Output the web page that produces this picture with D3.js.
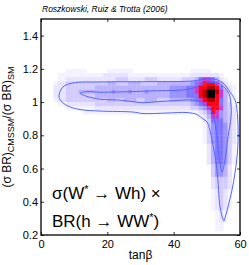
<!DOCTYPE html>
<html>
<head>
<meta charset="utf-8">
<script src="https://cdn.jsdelivr.net/npm/d3@7"></script>
<style>
  body { margin: 0; background: #fff; }
  svg { display: block; font-family: "Liberation Sans", Arial, sans-serif; }
</style>
</head>
<body>
<svg id="chart" width="249" height="265"></svg>
<script>
// 軸の値
var xTicks = [0, 20, 40, 60];
var yTicks = [0.2, 0.4, 0.6, 0.8, 1.0, 1.2, 1.4];

// ヒストグラムのビン (tanβ 1.25刻み, 比 0.025刻み, 上から行番号)
var tanbStep = 1.25;
var ratioStep = 0.025;
var ratioTop = 1.5;

// [行, 開始列, 強度文字列]  0-9, a = 最大
var heatRows = [
  [12, 6, "11111" + "00000" + "111111" + "00000000000000" + "11111"],
  [13, 4, "111111111" + "11" + "222222" + "111111111111111" + "2222222" + "1"],
  [14, 4, "112222222" + "222223332222333222222" + "333" + "46776421"],
  [15, 3, "1223333333" + "333443334443333444" + "44444" + "567" + "888" + "7421"],
  [16, 3, "2223333333" + "444444444444444444" + "5555" + "66" + "788998" + "6321"],
  [17, 3, "2223334444" + "444454445444544444" + "5555" + "66" + "789" + "aa" + "97421"],
  [18, 3, "2223333333" + "444444444444444444" + "5555" + "666" + "89aa8" + "7421"],
  [19, 3, "1223333333" + "333443344433444333" + "44444" + "5678" + "99" + "86421"],
  [20, 4, "112222222" + "333333333333333333" + "33333" + "4567" + "888" + "6431"],
  [21, 6, "1111111" + "222222222222222222" + "22222" + "33457" + "88" + "7432"],
  [22, 10, "1111111111" + "1111111111" + "11111111" + "235875432"],
  [23, 38, "1247754321"],
  [24, 39, "23666432"],
  [25, 39, "13566532"],
  [26, 39, "13566532"],
  [27, 39, "13566532"],
  [28, 39, "13566532"],
  [29, 39, "13566532"],
  [30, 40, "2466531"],
  [31, 40, "2466531"],
  [32, 40, "2466531"],
  [33, 40, "2466531"],
  [34, 40, "2466531"],
  [35, 41, "35542"],
  [36, 41, "35542"],
  [37, 41, "35542"],
  [38, 41, "23332"],
  [39, 41, "23332"],
  [40, 41, "23332"],
  [41, 41, "12321"],
  [42, 41, "12321"],
  [43, 41, "12321"],
  [44, 41, "12321"],
  [45, 41, "12321"],
  [46, 42, "121"],
  [47, 42, "121"],
  [48, 42, "121"],
  [49, 42, "11"],
  [50, 42, "11"]
];

// 等高線 (tanβ, 比)
var outerContour = [
  [5.43,1.037],[6.63,1.091],[9.65,1.115],[17.79,1.121],[32.86,1.123],[45.83,1.127],
  [50.05,1.139],[52.76,1.136],[55.18,1.109],[56.98,1.061],[58.49,1.013],[59.10,0.952],
  [59.40,0.862],[59.40,0.754],[59.10,0.669],[58.49,0.573],[57.59,0.471],[56.38,0.369],
  [55.48,0.302],[55.18,0.284],[54.87,0.296],[53.97,0.369],[53.07,0.591],[51.56,0.772],
  [50.05,0.880],[48.84,0.898],[47.03,0.925],[44.02,0.937],[37.99,0.934],[30.75,0.931],
  [27.74,0.940],[17.79,0.946],[11.76,0.955],[8.14,0.976],[6.03,1.007]
];
var innerContour = [
  [11.76,1.053],[13.87,1.063],[17.79,1.059],[22.91,1.061],[27.74,1.063],[32.86,1.067],
  [37.99,1.069],[42.81,1.073],[46.43,1.088],[48.84,1.109],[51.26,1.118],[53.67,1.112],
  [55.48,1.085],[56.68,1.049],[57.29,0.982],[57.29,0.910],[56.38,0.790],[55.48,0.651],
  [54.57,0.579],[53.67,0.682],[52.76,0.832],[51.86,0.928],[50.05,0.976],[47.94,1.002],
  [44.92,1.013],[39.80,1.008],[34.97,1.002],[30.75,0.996],[27.74,1.002],[22.91,1.013],
  [17.79,1.017],[14.77,1.029],[12.66,1.043]
];

var levelColors = {
  "1": "#f5f2ff", "2": "#e8e3ff", "3": "#d4ccff", "4": "#bab2ff", "5": "#9c94ff",
  "6": "#7e76ff", "7": "#c83ad8", "8": "#ff0014", "9": "#b00000", "a": "#000000"
};

var svg = d3.select("#chart");
var margin = {left: 41, right: 9, top: 19, bottom: 30};
var W = 249, H = 265;

var x = d3.scaleLinear().domain([0, 60]).range([margin.left, W - margin.right]);
var y = d3.scaleLinear().domain([0.2, 1.5]).range([H - margin.bottom, margin.top]);

svg.append("defs").append("clipPath").attr("id", "plotClip")
  .append("rect")
  .attr("x", x(0)).attr("y", y(1.5))
  .attr("width", x(60) - x(0)).attr("height", y(0.2) - y(1.5));

var plot = svg.append("g").attr("clip-path", "url(#plotClip)");

// ヒートマップ
var cells = [];
heatRows.forEach(function(r){
  for(var i=0; i<r[2].length; i++){
    var ch = r[2][i];
    if(ch === "0") continue;
    cells.push({col: r[1] + i, row: r[0], v: ch});
  }
});

plot.append("g").attr("class", "heat")
  .selectAll("rect")
  .data(cells)
  .enter()
  .append("rect")
  .attr("x", function(d){ return x(d.col * tanbStep); })
  .attr("y", function(d){ return y(ratioTop - d.row * ratioStep); })
  .attr("width", function(d){ return x((d.col + 1) * tanbStep) - x(d.col * tanbStep) + 0.3; })
  .attr("height", function(d){ return y(ratioTop - (d.row + 1) * ratioStep) - y(ratioTop - d.row * ratioStep) + 0.3; })
  .attr("fill", function(d){ return levelColors[d.v]; });

// 等高線
var line = d3.line()
  .x(function(d){ return x(d[0]); })
  .y(function(d){ return y(d[1]); })
  .curve(d3.curveCatmullRomClosed.alpha(0.5));

plot.selectAll("path.contour")
  .data([outerContour, innerContour])
  .enter()
  .append("path")
  .attr("class", "contour")
  .attr("d", line)
  .attr("fill", "none")
  .attr("stroke", "#5266ff")
  .attr("stroke-width", 1);

// 軸
var fmt = function(d){ return String(+d.toFixed(1)); };

var gx = svg.append("g")
  .attr("transform", "translate(0," + y(0.2) + ")")
  .call(d3.axisBottom(x).tickValues(xTicks).tickSize(-3).tickPadding(5).tickFormat(fmt));
var gxt = svg.append("g")
  .attr("transform", "translate(0," + y(1.5) + ")")
  .call(d3.axisTop(x).tickValues(xTicks).tickSize(-3).tickFormat(""));
var gy = svg.append("g")
  .attr("transform", "translate(" + x(0) + ",0)")
  .call(d3.axisLeft(y).tickValues(yTicks).tickSize(-3).tickPadding(3).tickFormat(fmt));
var gyr = svg.append("g")
  .attr("transform", "translate(" + x(60) + ",0)")
  .call(d3.axisRight(y).tickValues(yTicks).tickSize(-3).tickFormat(""));

[gx, gxt, gy, gyr].forEach(function(g){
  g.select(".domain").remove();
  g.selectAll(".tick line").attr("stroke", "#000").attr("stroke-width", 0.8);
  g.selectAll(".tick text").attr("fill", "#000").style("font-size", "11px")
    .style("font-family", "Liberation Sans, Arial, sans-serif");
});

svg.append("rect")
  .attr("x", x(0)).attr("y", y(1.5))
  .attr("width", x(60) - x(0)).attr("height", y(0.2) - y(1.5))
  .attr("fill", "none").attr("stroke", "#000").attr("stroke-width", 1.3);

// タイトル
svg.append("text")
  .attr("x", 42).attr("y", 12)
  .style("font-size", "8.5px").style("font-style", "italic")
  .text("Roszkowski, Ruiz & Trotta (2006)");

// x軸ラベル
svg.append("text")
  .attr("x", (x(0) + x(60)) / 2).attr("y", 259)
  .attr("text-anchor", "middle")
  .style("font-size", "12px")
  .text("tanβ");

// y軸ラベル
var yl = svg.append("text")
  .attr("transform", "translate(11," + ((y(0.2) + y(1.5)) / 2) + ") rotate(-90)")
  .attr("text-anchor", "middle")
  .style("font-size", "12px");
yl.append("tspan").text("(σ BR)");
yl.append("tspan").attr("dy", 3).style("font-size", "9px").text("CMSSM");
yl.append("tspan").attr("dy", -3).text("/(σ BR)");
yl.append("tspan").attr("dy", 3).style("font-size", "9px").text("SM");

// 注記
var t1 = svg.append("text").attr("x", 52).attr("y", 199).style("font-size", "17px");
t1.append("tspan").text("σ(W");
t1.append("tspan").attr("dy", -6).style("font-size", "11px").text("*");
t1.append("tspan").attr("dy", 6).text(" → Wh) ×");

var t2 = svg.append("text").attr("x", 52).attr("y", 227).style("font-size", "17px");
t2.append("tspan").text("BR(h → WW");
t2.append("tspan").attr("dy", -6).style("font-size", "11px").text("*");
t2.append("tspan").attr("dy", 6).text(")");
</script>
</body>
</html>
